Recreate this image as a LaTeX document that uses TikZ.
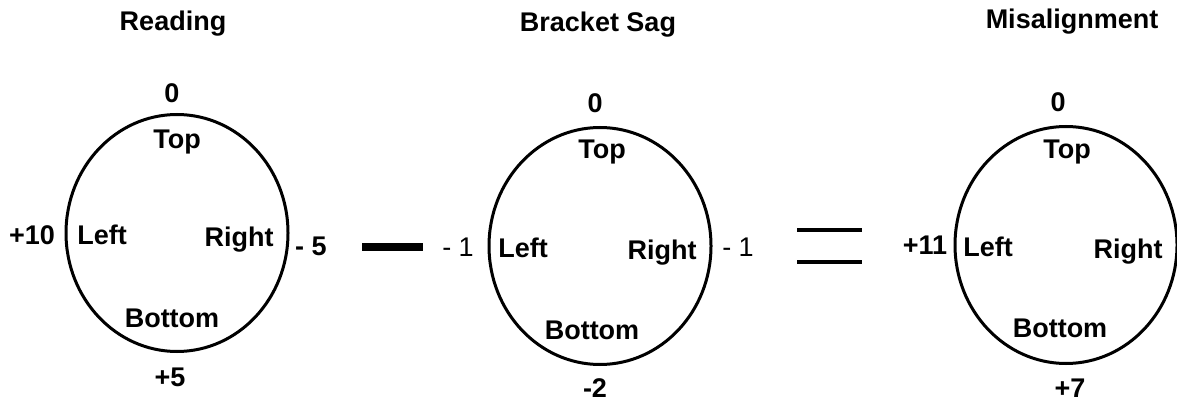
\documentclass[tikz,border=0pt]{standalone}
\usepackage{fontspec}
\setmainfont{Liberation Sans}
\usetikzlibrary{shapes.geometric}
\begin{document}
\begin{tikzpicture}[x=1pt,y=-1pt,
  dial/.style={ellipse,draw,line width=3pt,inner sep=0pt,minimum width=222pt,minimum height=237pt},
  lab/.style={inner sep=0pt,font=\fontsize{27}{30}\selectfont\bfseries},
  lablt/.style={inner sep=0pt,font=\fontsize{27}{30}\selectfont},
  bar/.style={line width=4pt}]
\useasboundingbox (0,0) rectangle (1177,403);
% circle 1
\node[dial] (c1) at (177,233) {};
\node[lab] (t1) at (173,24) {Reading};
\node[lab] (z1) at (172,93) {0};
\node[lab] (top1) at (177,142) {Top};
\node[lab] (lv1) at (32,235) {+10};
\node[lab] (l1) at (102,235) {Left};
\node[lab] (r1) at (239,240) {Right};
\node[lab] (rv1) at (311,246) {- 5};
\node[lab] (b1) at (172,318) {Bottom};
\node[lab] (bv1) at (170,377) {+5};
% minus
\draw[line width=8pt] (362,247) -- (423,247);
% circle 2
\node[dial] (c2) at (600,246) {};
\node[lab] (t2) at (598,25) {Bracket Sag};
\node[lab] (z2) at (595,103) {0};
\node[lab] (top2) at (602,152) {Top};
\node[lablt] (lv2) at (458,247) {- 1};
\node[lab] (l2) at (523,248) {Left};
\node[lab] (r2) at (662,253) {Right};
\node[lablt] (rv2) at (738,247) {- 1};
\node[lab] (b2) at (592,330) {Bottom};
\node[lab] (bv2) at (595,388) {-2};
% equals
\draw[bar] (797,230) -- (862,230);
\draw[bar] (797,262) -- (862,262);
% circle 3
\node[dial] (c3) at (1066,245) {};
\node[lab] (t3) at (1072,22) {Misalignment};
\node[lab] (z3) at (1058,102) {0};
\node[lab] (top3) at (1067,152) {Top};
\node[lab] (lv3) at (925,245) {+11};
\node[lab] (l3) at (988,247) {Left};
\node[lab] (r3) at (1128,252) {Right};
\node[lab] (b3) at (1060,328) {Bottom};
\node[lab] (bv3) at (1070,388) {+7};
\end{tikzpicture}
\end{document}
